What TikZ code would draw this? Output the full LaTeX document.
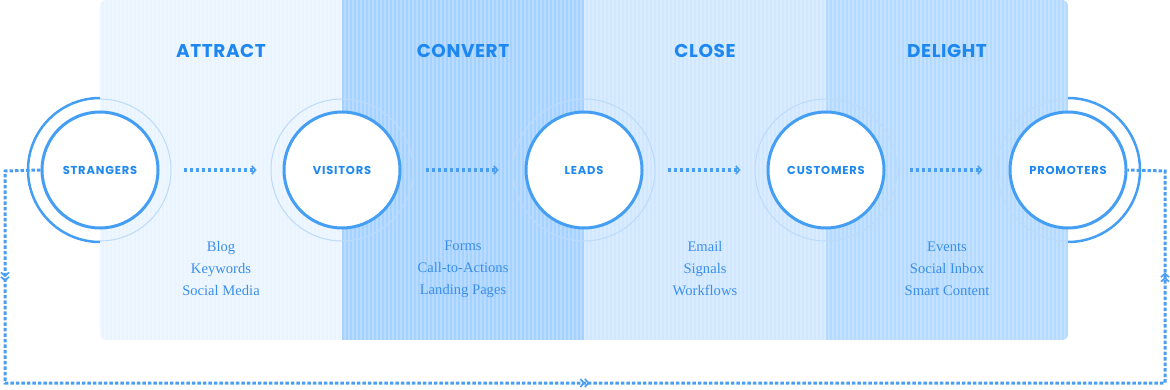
\documentclass[tikz,border=0pt]{standalone}
\usepackage{fontspec}
\setmainfont{Liberation Serif}
\newfontfamily\headfont{Poppins}[LetterSpace=3]
\newfontfamily\labfont{Poppins}[LetterSpace=7]
\usetikzlibrary{arrows.meta,decorations.markings}
\definecolor{colA}{HTML}{EAF4FF}
\definecolor{colB}{HTML}{A6D2FF}
\definecolor{colC}{HTML}{D0E7FF}
\definecolor{colD}{HTML}{B4DAFF}
\definecolor{ring}{HTML}{449FF4}
\definecolor{faint}{HTML}{BCDBFA}
\definecolor{txt}{HTML}{1E88F0}
\definecolor{itm}{HTML}{3A8FEA}
\definecolor{dotc}{HTML}{4A9EF2}
\tikzset{
  x=1pt, y=-1pt,
  stage/.style={circle, draw=ring, line width=3pt, fill=white, minimum size=116pt, inner sep=0pt,
    font=\labfont\bfseries\fontsize{11.5}{11.5}\selectfont, text=txt},
  title/.style={font=\headfont\bfseries\fontsize{18.5}{19}\selectfont, text=txt},
  items/.style={font=\fontsize{14.6}{22}\selectfont, text=itm, align=center},
  halo/.style={draw=faint, line width=1pt},
  dotline/.style={draw=dotc, line width=3.2pt, dash pattern=on 3pt off 3pt},
  loopline/.style={draw=dotc, line width=3pt, dash pattern=on 3.5pt off 2pt},
  chev/.tip={Straight Barb[length=3.5pt,width=8pt,line width=1.7pt]},
  flowarrow/.style={dotline, -{chev}, shorten <=24pt, shorten >=26pt},
  twochev/.style={color=dotc, postaction={decorate}, decoration={markings,
     mark=at position 0.5 with {\arrow[dotc]{chev}},
     mark=at position 0.5 with {\arrow[dotc, xshift=4.5pt]{chev}}}}
}
\begin{document}
\begin{tikzpicture}
\useasboundingbox (0,0) rectangle (1170,390);
% panel
\begin{scope}
  \clip[rounded corners=6pt] (100,0) rectangle (1068,340);
  \fill[colA] (100,0) rectangle (342,340);
  \fill[colB] (342,0) rectangle (584,340);
  \fill[colC] (584,0) rectangle (826,340);
  \fill[colD] (826,0) rectangle (1068,340);
  \foreach \x in {101,105,...,1068}
    \draw[white, opacity=0.22, line width=1.5pt] (\x,0) -- (\x,340);
\end{scope}
% titles
\node[title] (tA) at (221,51) {ATTRACT};
\node[title] (tB) at (463,51) {CONVERT};
\node[title] (tC) at (705,51) {CLOSE};
\node[title] (tD) at (947,51) {DELIGHT};
% halos
\draw[halo] (342,170) circle (71);
\draw[halo] (584,170) circle (71);
\draw[halo] (826,170) circle (71);
\draw[halo] (100,170) ++(90:71) arc[start angle=90, end angle=-90, radius=71];
\draw[halo] (1068,170) ++(90:71) arc[start angle=90, end angle=270, radius=71];
\draw[ring, line width=2.5pt] (100,170) ++(90:72) arc[start angle=90, end angle=270, radius=72];
\draw[ring, line width=2.5pt] (1068,170) ++(90:72) arc[start angle=90, end angle=-90, radius=72];
% stages
\node[stage] (s) at (100,170) {STRANGERS};
\node[stage] (v) at (342,170) {VISITORS};
\node[stage] (l) at (584,170) {LEADS};
\node[stage] (c) at (826,170) {CUSTOMERS};
\node[stage] (p) at (1068,170) {PROMOTERS};
% flow arrows
\draw[flowarrow] (s) -- (v);
\draw[flowarrow] (v) -- (l);
\draw[flowarrow] (l) -- (c);
\draw[flowarrow] (c) -- (p);
% items
\node[items] (iA) at (221,269) {Blog\\Keywords\\Social Media};
\node[items] (iB) at (463,269) {Forms\\Call-to-Actions\\Landing Pages};
\node[items] (iC) at (705,269) {Email\\Signals\\Workflows};
\node[items] (iD) at (947,269) {Events\\Social Inbox\\Smart Content};
% loop
\coordinate (c1) at (5,171);
\coordinate (c2) at (5,383);
\coordinate (c3) at (1165,383);
\coordinate (c4) at (1165,171);
\draw[loopline] (s.west) -- (c1) -- (c2) -- (c3) -- (c4) -- (p.east);
\path[twochev] (c1) -- (c2);
\path[twochev] (c2) -- (c3);
\path[twochev] (c3) -- (c4);
\end{tikzpicture}
\end{document}
